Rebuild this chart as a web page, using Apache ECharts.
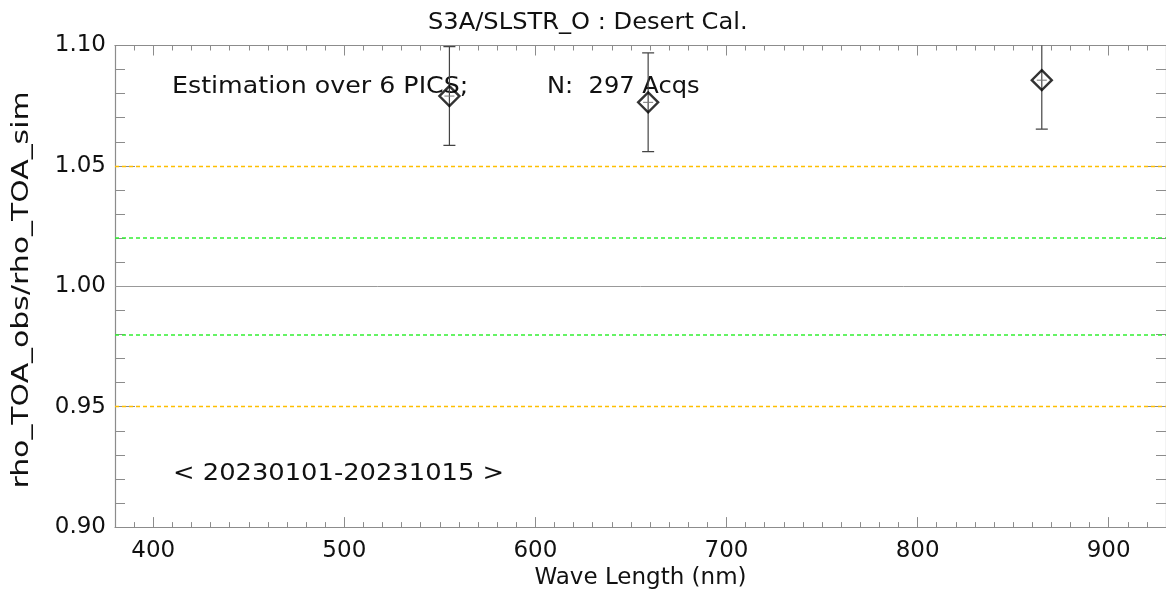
<!DOCTYPE html>
<html>
<head>
<meta charset="utf-8">
<script src="https://cdn.jsdelivr.net/npm/echarts@6/dist/echarts.min.js"></script>
<style>
  html, body { margin: 0; padding: 0; background: #fff; }
  #chart { width: 1166px; height: 595px; }
</style>
</head>
<body>
<div id="chart"></div>
<script>
// band centres (nm) and observed/simulated reflectance ratio
const wavelengths = [555, 659, 865]
const ratio = [1.0790, 1.0764, 1.0856]
const sigma = [0.0205, 0.0205, 0.0203]

// tick positions
const xMajorTicks = [400, 500, 600, 700, 800, 900]
const xMinorTicks = [390, 410, 420, 430, 440, 450, 460, 470, 480, 490, 510, 520, 530, 540, 550, 560, 570, 580, 590,
  610, 620, 630, 640, 650, 660, 670, 680, 690, 710, 720, 730, 740, 750, 760, 770, 780, 790,
  810, 820, 830, 840, 850, 860, 870, 880, 890, 910, 920]

// reference levels
const goldLevels = [1.05, 0.95]
const greenLevels = [1.02, 0.98]
const unityLevel = [1.00]

const FONT = 'DejaVu Sans'
const GREY = '#8c8c8c'
const INK = '#111'

const chart = echarts.init(document.getElementById('chart'))

const errData = wavelengths.map((w, i) => [w, ratio[i] - sigma[i], ratio[i] + sigma[i], ratio[i]])

const refLines = [
  ...goldLevels.map(v => ({ yAxis: v, lineStyle: { color: '#ffbf00', type: [4, 3], width: 1.3 } })),
  ...greenLevels.map(v => ({ yAxis: v, lineStyle: { color: '#33f033', type: [4, 3], width: 1.5 } })),
  ...unityLevel.map(v => ({ yAxis: v, lineStyle: { color: '#999999', type: 'solid', width: 1 } }))
]

const baseX = {
  type: 'value',
  min: 380,
  max: 930,
  splitLine: { show: false },
  axisLine: { show: true, onZero: false, lineStyle: { color: GREY, width: 1.2 } },
  axisLabel: { show: false }
}
const baseY = {
  type: 'value',
  min: 0.9,
  max: 1.1,
  interval: 0.05,
  splitLine: { show: false },
  axisLine: { show: true, onZero: false, lineStyle: { color: GREY, width: 1.2 } },
  axisTick: { show: true, inside: true, length: 20, lineStyle: { color: GREY } },
  minorTick: { show: true, splitNumber: 5, length: 10, lineStyle: { color: GREY } },
  axisLabel: { show: false }
}

// free text, stretched a little to mimic the wide plotting font
const note = (text, x, y, sx, rot) => ({
  type: 'text',
  x, y,
  scaleX: sx,
  rotation: rot || 0,
  style: {
    text,
    font: '23px "DejaVu Sans"',
    fill: INK,
    textAlign: rot ? 'center' : 'left',
    textVerticalAlign: 'middle'
  }
})

const option = {
  backgroundColor: '#ffffff',
  animation: false,
  textStyle: { fontFamily: FONT },
  grid: { left: 115, right: -3, top: 45.5, bottom: 65.5 },
  xAxis: [
    {
      ...baseX,
      position: 'bottom',
      name: 'Wave Length (nm)',
      nameLocation: 'middle',
      nameGap: 36,
      nameTextStyle: { fontFamily: FONT, fontSize: 23, color: INK },
      axisTick: { show: true, inside: true, length: 10, customValues: xMajorTicks, lineStyle: { color: GREY } },
      axisLabel: { show: true, customValues: xMajorTicks, margin: 12, fontFamily: FONT, fontSize: 23, color: INK }
    },
    {
      ...baseX,
      position: 'bottom',
      axisLine: { show: false },
      axisTick: { show: true, inside: true, length: 5, customValues: xMinorTicks, lineStyle: { color: GREY } }
    },
    {
      ...baseX,
      position: 'top',
      axisTick: { show: true, inside: true, length: 10, customValues: xMajorTicks, lineStyle: { color: GREY } }
    },
    {
      ...baseX,
      position: 'top',
      axisLine: { show: false },
      axisTick: { show: true, inside: true, length: 5, customValues: xMinorTicks, lineStyle: { color: GREY } }
    }
  ],
  yAxis: [
    {
      ...baseY,
      position: 'left',
      axisLabel: {
        show: true,
        margin: 9,
        fontFamily: FONT,
        fontSize: 23,
        color: INK,
        padding: [0, 0, 0, 0],
        formatter: v => v.toFixed(2)
      }
    },
    {
      ...baseY,
      position: 'right'
    }
  ],
  graphic: [
    note('S3A/SLSTR_O : Desert Cal.', 428, 23, 1.05),
    note('Estimation over 6 PICS;', 172, 87, 1.1),
    note('N:  297 Acqs', 547, 87, 1.05),
    note('< 20230101-20231015 >', 173, 474, 1.12),
    note('rho_TOA_obs/rho_TOA_sim', 22, 290, 1.3, Math.PI / 2)
  ],
  series: [
    {
      type: 'line',
      name: 'ref',
      data: [],
      markLine: {
        silent: true,
        symbol: 'none',
        label: { show: false },
        data: refLines
      }
    },
    {
      type: 'custom',
      name: 'errbar',
      clip: true,
      data: errData,
      z: 3,
      renderItem: (params, api) => {
        const x = api.value(0)
        const lo = api.coord([x, api.value(1)])
        const hi = api.coord([x, api.value(2)])
        const mid = api.coord([x, api.value(3)])
        const cap = 6
        const style = { stroke: '#444', lineWidth: 1.2 }
        return {
          type: 'group',
          children: [
            { type: 'line', shape: { x1: lo[0], y1: lo[1], x2: hi[0], y2: hi[1] }, style },
            { type: 'line', shape: { x1: lo[0] - cap, y1: lo[1], x2: lo[0] + cap, y2: lo[1] }, style },
            { type: 'line', shape: { x1: hi[0] - cap, y1: hi[1], x2: hi[0] + cap, y2: hi[1] }, style },
            { type: 'line', shape: { x1: mid[0] - 5, y1: mid[1], x2: mid[0] + 5, y2: mid[1] }, style: { stroke: '#777', lineWidth: 1 } }
          ]
        }
      }
    },
    {
      type: 'scatter',
      name: 'ratio',
      data: wavelengths.map((w, i) => [w, ratio[i]]),
      symbol: 'diamond',
      symbolSize: 20,
      z: 4,
      itemStyle: { color: 'rgba(0,0,0,0)', borderColor: '#000', borderWidth: 2.4 }
    }
  ]
}

chart.setOption(option)
</script>
</body>
</html>
